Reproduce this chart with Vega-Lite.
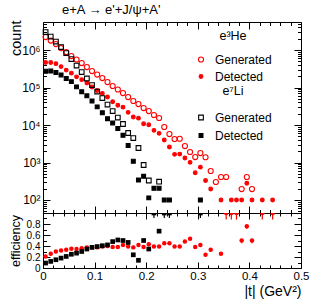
{
  "$schema": "https://vega.github.io/schema/vega-lite/v6.json",
  "padding": {"left": 7, "top": 4, "right": 5, "bottom": 5},
  "bounds": "flush",
  "title": {"text": "e+A → e'+J/ψ+A'", "anchor": "start", "frame": "group", "dx": 19, "fontSize": 13, "fontWeight": "normal", "font": "Liberation Sans", "offset": 0, "color": "black"},
  "config": {
    "view": {"stroke": "black", "strokeWidth": 1},
    "font": "Liberation Sans",
    "axis": {"domain": false, "grid": false, "tickColor": "black", "labelColor": "black", "titleColor": "black", "titleFontWeight": "normal", "labelFont": "Liberation Sans", "titleFont": "Liberation Sans", "labelOverlap": false, "labelBound": false, "labelFlush": false},
    "legend": {"labelFont": "Liberation Sans", "titleFont": "Liberation Sans", "labelColor": "black", "titleColor": "black"}
  },
  "spacing": 0,
  "datasets": {
    "counts": [
      {"t":0.005,"nucleus":"He","series":"Generated","count":2220000},
      {"t":0.015,"nucleus":"He","series":"Generated","count":1790000},
      {"t":0.025,"nucleus":"He","series":"Generated","count":1445000},
      {"t":0.035,"nucleus":"He","series":"Generated","count":1130000},
      {"t":0.045,"nucleus":"He","series":"Generated","count":885000},
      {"t":0.055,"nucleus":"He","series":"Generated","count":692000},
      {"t":0.065,"nucleus":"He","series":"Generated","count":558000},
      {"t":0.075,"nucleus":"He","series":"Generated","count":450000},
      {"t":0.085,"nucleus":"He","series":"Generated","count":352000},
      {"t":0.095,"nucleus":"He","series":"Generated","count":275000},
      {"t":0.105,"nucleus":"He","series":"Generated","count":222000},
      {"t":0.115,"nucleus":"He","series":"Generated","count":179000},
      {"t":0.125,"nucleus":"He","series":"Generated","count":140000},
      {"t":0.135,"nucleus":"He","series":"Generated","count":110000},
      {"t":0.145,"nucleus":"He","series":"Generated","count":88500},
      {"t":0.155,"nucleus":"He","series":"Generated","count":71300},
      {"t":0.165,"nucleus":"He","series":"Generated","count":55800},
      {"t":0.175,"nucleus":"He","series":"Generated","count":43700},
      {"t":0.185,"nucleus":"He","series":"Generated","count":36300},
      {"t":0.195,"nucleus":"He","series":"Generated","count":28400},
      {"t":0.205,"nucleus":"He","series":"Generated","count":23600},
      {"t":0.215,"nucleus":"He","series":"Generated","count":18500},
      {"t":0.225,"nucleus":"He","series":"Generated","count":15400},
      {"t":0.235,"nucleus":"He","series":"Generated","count":8850},
      {"t":0.245,"nucleus":"He","series":"Generated","count":5750},
      {"t":0.255,"nucleus":"He","series":"Generated","count":4240},
      {"t":0.265,"nucleus":"He","series":"Generated","count":4300},
      {"t":0.275,"nucleus":"He","series":"Generated","count":2750},
      {"t":0.285,"nucleus":"He","series":"Generated","count":1905},
      {"t":0.295,"nucleus":"He","series":"Generated","count":1400},
      {"t":0.305,"nucleus":"He","series":"Generated","count":1790},
      {"t":0.315,"nucleus":"He","series":"Generated","count":1380},
      {"t":0.325,"nucleus":"He","series":"Generated","count":593},
      {"t":0.335,"nucleus":"He","series":"Generated","count":302},
      {"t":0.345,"nucleus":"He","series":"Generated","count":411},
      {"t":0.355,"nucleus":"He","series":"Generated","count":411},
      {"t":0.385,"nucleus":"He","series":"Generated","count":196},
      {"t":0.395,"nucleus":"He","series":"Generated","count":411},
      {"t":0.405,"nucleus":"He","series":"Generated","count":196},
      {"t":0.005,"nucleus":"He","series":"Detected","count":466000},
      {"t":0.015,"nucleus":"He","series":"Detected","count":465000},
      {"t":0.025,"nucleus":"He","series":"Detected","count":433500},
      {"t":0.035,"nucleus":"He","series":"Detected","count":361600},
      {"t":0.045,"nucleus":"He","series":"Detected","count":292000},
      {"t":0.055,"nucleus":"He","series":"Detected","count":242200},
      {"t":0.065,"nucleus":"He","series":"Detected","count":192500},
      {"t":0.075,"nucleus":"He","series":"Detected","count":162000},
      {"t":0.085,"nucleus":"He","series":"Detected","count":132000},
      {"t":0.095,"nucleus":"He","series":"Detected","count":103100},
      {"t":0.105,"nucleus":"He","series":"Detected","count":83250},
      {"t":0.115,"nucleus":"He","series":"Detected","count":69800},
      {"t":0.125,"nucleus":"He","series":"Detected","count":56000},
      {"t":0.135,"nucleus":"He","series":"Detected","count":41800},
      {"t":0.145,"nucleus":"He","series":"Detected","count":33630},
      {"t":0.155,"nucleus":"He","series":"Detected","count":29950},
      {"t":0.165,"nucleus":"He","series":"Detected","count":21760},
      {"t":0.175,"nucleus":"He","series":"Detected","count":16390},
      {"t":0.185,"nucleus":"He","series":"Detected","count":15250},
      {"t":0.195,"nucleus":"He","series":"Detected","count":10790},
      {"t":0.205,"nucleus":"He","series":"Detected","count":10150},
      {"t":0.215,"nucleus":"He","series":"Detected","count":7215},
      {"t":0.225,"nucleus":"He","series":"Detected","count":6006},
      {"t":0.235,"nucleus":"He","series":"Detected","count":3983},
      {"t":0.245,"nucleus":"He","series":"Detected","count":2588},
      {"t":0.255,"nucleus":"He","series":"Detected","count":1654},
      {"t":0.265,"nucleus":"He","series":"Detected","count":1677},
      {"t":0.275,"nucleus":"He","series":"Detected","count":1320},
      {"t":0.285,"nucleus":"He","series":"Detected","count":1010},
      {"t":0.295,"nucleus":"He","series":"Detected","count":532},
      {"t":0.305,"nucleus":"He","series":"Detected","count":752},
      {"t":0.315,"nucleus":"He","series":"Detected","count":331},
      {"t":0.325,"nucleus":"He","series":"Detected","count":196},
      {"t":0.345,"nucleus":"He","series":"Detected","count":100},
      {"t":0.365,"nucleus":"He","series":"Detected","count":100},
      {"t":0.375,"nucleus":"He","series":"Detected","count":100},
      {"t":0.385,"nucleus":"He","series":"Detected","count":100},
      {"t":0.395,"nucleus":"He","series":"Detected","count":280},
      {"t":0.405,"nucleus":"He","series":"Detected","count":100},
      {"t":0.425,"nucleus":"He","series":"Detected","count":100},
      {"t":0.445,"nucleus":"He","series":"Detected","count":100},
      {"t":0.005,"nucleus":"Li","series":"Generated","count":3020000},
      {"t":0.015,"nucleus":"Li","series":"Generated","count":2290000},
      {"t":0.025,"nucleus":"Li","series":"Generated","count":1686000},
      {"t":0.035,"nucleus":"Li","series":"Generated","count":1200000},
      {"t":0.045,"nucleus":"Li","series":"Generated","count":832000},
      {"t":0.055,"nucleus":"Li","series":"Generated","count":575000},
      {"t":0.065,"nucleus":"Li","series":"Generated","count":386000},
      {"t":0.075,"nucleus":"Li","series":"Generated","count":259000},
      {"t":0.085,"nucleus":"Li","series":"Generated","count":174000},
      {"t":0.095,"nucleus":"Li","series":"Generated","count":116600},
      {"t":0.105,"nucleus":"Li","series":"Generated","count":78200},
      {"t":0.115,"nucleus":"Li","series":"Generated","count":52500},
      {"t":0.125,"nucleus":"Li","series":"Generated","count":35200},
      {"t":0.135,"nucleus":"Li","series":"Generated","count":23600},
      {"t":0.145,"nucleus":"Li","series":"Generated","count":15850},
      {"t":0.155,"nucleus":"Li","series":"Generated","count":10640},
      {"t":0.165,"nucleus":"Li","series":"Generated","count":6120},
      {"t":0.175,"nucleus":"Li","series":"Generated","count":4500},
      {"t":0.185,"nucleus":"Li","series":"Generated","count":2437},
      {"t":0.195,"nucleus":"Li","series":"Generated","count":858},
      {"t":0.205,"nucleus":"Li","series":"Generated","count":331},
      {"t":0.225,"nucleus":"Li","series":"Generated","count":308},
      {"t":0.005,"nucleus":"Li","series":"Detected","count":271800},
      {"t":0.015,"nucleus":"Li","series":"Detected","count":274800},
      {"t":0.025,"nucleus":"Li","series":"Detected","count":252900},
      {"t":0.035,"nucleus":"Li","series":"Detected","count":216000},
      {"t":0.045,"nucleus":"Li","series":"Detected","count":174700},
      {"t":0.055,"nucleus":"Li","series":"Detected","count":143750},
      {"t":0.065,"nucleus":"Li","series":"Detected","count":104200},
      {"t":0.075,"nucleus":"Li","series":"Detected","count":77700},
      {"t":0.085,"nucleus":"Li","series":"Detected","count":60030},
      {"t":0.095,"nucleus":"Li","series":"Detected","count":43725},
      {"t":0.105,"nucleus":"Li","series":"Detected","count":30500},
      {"t":0.115,"nucleus":"Li","series":"Detected","count":21260},
      {"t":0.125,"nucleus":"Li","series":"Detected","count":14780},
      {"t":0.135,"nucleus":"Li","series":"Detected","count":11330},
      {"t":0.145,"nucleus":"Li","series":"Detected","count":8080},
      {"t":0.155,"nucleus":"Li","series":"Detected","count":5320},
      {"t":0.165,"nucleus":"Li","series":"Detected","count":2846},
      {"t":0.175,"nucleus":"Li","series":"Detected","count":1080},
      {"t":0.185,"nucleus":"Li","series":"Detected","count":341},
      {"t":0.195,"nucleus":"Li","series":"Detected","count":429},
      {"t":0.205,"nucleus":"Li","series":"Detected","count":114},
      {"t":0.215,"nucleus":"Li","series":"Detected","count":205},
      {"t":0.225,"nucleus":"Li","series":"Detected","count":206},
      {"t":0.235,"nucleus":"Li","series":"Detected","count":100},
      {"t":0.245,"nucleus":"Li","series":"Detected","count":100},
      {"t":0.305,"nucleus":"Li","series":"Detected","count":100}
    ],
    "eff": [
      {"t":0.005,"nucleus":"He","eff":0.21,"lo":0.21,"over":0},
      {"t":0.015,"nucleus":"He","eff":0.26,"lo":0.26,"over":0},
      {"t":0.025,"nucleus":"He","eff":0.30,"lo":0.30,"over":0},
      {"t":0.035,"nucleus":"He","eff":0.32,"lo":0.32,"over":0},
      {"t":0.045,"nucleus":"He","eff":0.33,"lo":0.33,"over":0},
      {"t":0.055,"nucleus":"He","eff":0.35,"lo":0.35,"over":0},
      {"t":0.065,"nucleus":"He","eff":0.345,"lo":0.345,"over":0},
      {"t":0.075,"nucleus":"He","eff":0.36,"lo":0.36,"over":0},
      {"t":0.085,"nucleus":"He","eff":0.375,"lo":0.375,"over":0},
      {"t":0.095,"nucleus":"He","eff":0.375,"lo":0.375,"over":0},
      {"t":0.105,"nucleus":"He","eff":0.375,"lo":0.375,"over":0},
      {"t":0.115,"nucleus":"He","eff":0.39,"lo":0.39,"over":0},
      {"t":0.125,"nucleus":"He","eff":0.40,"lo":0.40,"over":0},
      {"t":0.135,"nucleus":"He","eff":0.38,"lo":0.38,"over":0},
      {"t":0.145,"nucleus":"He","eff":0.38,"lo":0.38,"over":0},
      {"t":0.155,"nucleus":"He","eff":0.42,"lo":0.42,"over":0},
      {"t":0.165,"nucleus":"He","eff":0.39,"lo":0.39,"over":0},
      {"t":0.175,"nucleus":"He","eff":0.375,"lo":0.375,"over":0},
      {"t":0.185,"nucleus":"He","eff":0.42,"lo":0.42,"over":0},
      {"t":0.195,"nucleus":"He","eff":0.38,"lo":0.38,"over":0},
      {"t":0.205,"nucleus":"He","eff":0.43,"lo":0.43,"over":0},
      {"t":0.215,"nucleus":"He","eff":0.39,"lo":0.39,"over":0},
      {"t":0.225,"nucleus":"He","eff":0.39,"lo":0.39,"over":0},
      {"t":0.235,"nucleus":"He","eff":0.45,"lo":0.45,"over":0},
      {"t":0.245,"nucleus":"He","eff":0.45,"lo":0.45,"over":0},
      {"t":0.255,"nucleus":"He","eff":0.39,"lo":0.39,"over":0},
      {"t":0.265,"nucleus":"He","eff":0.39,"lo":0.39,"over":0},
      {"t":0.275,"nucleus":"He","eff":0.48,"lo":0.48,"over":0},
      {"t":0.285,"nucleus":"He","eff":0.53,"lo":0.53,"over":0},
      {"t":0.295,"nucleus":"He","eff":0.38,"lo":0.38,"over":0},
      {"t":0.305,"nucleus":"He","eff":0.42,"lo":0.42,"over":0},
      {"t":0.315,"nucleus":"He","eff":0.24,"lo":0.24,"over":0},
      {"t":0.325,"nucleus":"He","eff":0.33,"lo":0.33,"over":0},
      {"t":0.345,"nucleus":"He","eff":0.26,"lo":0.26,"over":0},
      {"t":0.385,"nucleus":"He","eff":0.50,"lo":0.45,"over":0},
      {"t":0.395,"nucleus":"He","eff":0.76,"lo":0.71,"over":0},
      {"t":0.405,"nucleus":"He","eff":0.50,"lo":0.45,"over":0},
      {"t":0.355,"nucleus":"He","eff":1,"lo":0.88,"over":1},
      {"t":0.365,"nucleus":"He","eff":1,"lo":0.88,"over":1},
      {"t":0.375,"nucleus":"He","eff":1,"lo":0.88,"over":1},
      {"t":0.425,"nucleus":"He","eff":1,"lo":0.88,"over":1},
      {"t":0.445,"nucleus":"He","eff":1,"lo":0.88,"over":1},
      {"t":0.005,"nucleus":"Li","eff":0.09,"lo":0.09,"over":0},
      {"t":0.015,"nucleus":"Li","eff":0.12,"lo":0.12,"over":0},
      {"t":0.025,"nucleus":"Li","eff":0.15,"lo":0.15,"over":0},
      {"t":0.035,"nucleus":"Li","eff":0.18,"lo":0.18,"over":0},
      {"t":0.045,"nucleus":"Li","eff":0.21,"lo":0.21,"over":0},
      {"t":0.055,"nucleus":"Li","eff":0.25,"lo":0.25,"over":0},
      {"t":0.065,"nucleus":"Li","eff":0.27,"lo":0.27,"over":0},
      {"t":0.075,"nucleus":"Li","eff":0.30,"lo":0.30,"over":0},
      {"t":0.085,"nucleus":"Li","eff":0.345,"lo":0.345,"over":0},
      {"t":0.095,"nucleus":"Li","eff":0.375,"lo":0.375,"over":0},
      {"t":0.105,"nucleus":"Li","eff":0.39,"lo":0.39,"over":0},
      {"t":0.115,"nucleus":"Li","eff":0.405,"lo":0.405,"over":0},
      {"t":0.125,"nucleus":"Li","eff":0.42,"lo":0.42,"over":0},
      {"t":0.135,"nucleus":"Li","eff":0.48,"lo":0.48,"over":0},
      {"t":0.145,"nucleus":"Li","eff":0.51,"lo":0.51,"over":0},
      {"t":0.155,"nucleus":"Li","eff":0.50,"lo":0.50,"over":0},
      {"t":0.165,"nucleus":"Li","eff":0.465,"lo":0.465,"over":0},
      {"t":0.175,"nucleus":"Li","eff":0.24,"lo":0.24,"over":0},
      {"t":0.185,"nucleus":"Li","eff":0.14,"lo":0.14,"over":0},
      {"t":0.195,"nucleus":"Li","eff":0.50,"lo":0.50,"over":0},
      {"t":0.205,"nucleus":"Li","eff":0.345,"lo":0.345,"over":0},
      {"t":0.225,"nucleus":"Li","eff":0.67,"lo":0.67,"over":0},
      {"t":0.215,"nucleus":"Li","eff":1,"lo":0.91,"over":1},
      {"t":0.235,"nucleus":"Li","eff":1,"lo":0.91,"over":1},
      {"t":0.245,"nucleus":"Li","eff":1,"lo":0.91,"over":1},
      {"t":0.305,"nucleus":"Li","eff":1,"lo":0.91,"over":1}
    ]
  },
  "vconcat": [
    {
      "width": 258,
      "height": 191,
      "layer": [
        {
          "data": {"name": "counts"},
          "transform": [{"filter": "datum.nucleus === 'He'"}],
          "mark": {"type": "point", "shape": "circle", "filled": true, "strokeWidth": 1.1, "opacity": 1},
          "encoding": {
            "x": {"field": "t", "type": "quantitative", "scale": {"domain": [0, 0.5], "nice": false, "zero": false},
              "axis": {"orient": "bottom", "labels": false, "title": null,
                "values": [0,0.02,0.04,0.06,0.08,0.1,0.12,0.14,0.16,0.18,0.2,0.22,0.24,0.26,0.28,0.3,0.32,0.34,0.36,0.38,0.4,0.42,0.44,0.46,0.48,0.5],
                "tickSize": {"condition": {"test": "abs(datum.value*10-round(datum.value*10))<1e-6", "value": -7}, "value": -3.5}}},
            "y": {"field": "count", "type": "quantitative", "scale": {"type": "log", "domain": [45, 5600000], "nice": false},
              "axis": {"orient": "left",
                "values": [50,60,70,80,90,100,200,300,400,500,600,700,800,900,1000,2000,3000,4000,5000,6000,7000,8000,9000,10000,20000,30000,40000,50000,60000,70000,80000,90000,100000,200000,300000,400000,500000,600000,700000,800000,900000,1000000,2000000,3000000,4000000,5000000],
                "labelExpr": "datum.value==100?'10²':datum.value==1000?'10³':datum.value==10000?'10⁴':datum.value==100000?'10⁵':datum.value==1000000?'10⁶':''",
                "tickSize": {"condition": {"test": "indexof([100,1000,10000,100000,1000000], datum.value) >= 0", "value": -7}, "value": -3.5},
                "labelPadding": 10, "labelFontSize": 12,
                "title": "count", "titleFontSize": 14.5, "titleAnchor": "end", "titleAlign": "right", "titleX": -20, "titleY": -2}},
            "fill": {"field": "series", "type": "nominal", "scale": {"domain": ["Generated", "Detected"], "range": ["transparent", "#ff0000"]},
              "legend": {"title": "\u00a0\u00a0\u00a0e³He", "orient": "none", "legendX": 152, "legendY": 8, "titleAnchor": "middle", "titleFontSize": 12.5, "titleFontWeight": "normal", "titlePadding": 11, "labelFontSize": 12, "rowPadding": 5, "labelOffset": 8, "padding": 0, "symbolStrokeWidth": 1.1}},
            "stroke": {"field": "series", "type": "nominal", "scale": {"domain": ["Generated", "Detected"], "range": ["#ff0000", "#ff0000"]},
              "legend": {"title": "\u00a0\u00a0\u00a0e³He", "orient": "none", "legendX": 152, "legendY": 8, "titleAnchor": "middle", "titleFontSize": 12.5, "titleFontWeight": "normal", "titlePadding": 11, "labelFontSize": 12, "rowPadding": 5, "labelOffset": 8, "padding": 0, "symbolStrokeWidth": 1.1}},
            "size": {"field": "series", "type": "nominal", "scale": {"domain": ["Generated", "Detected"], "range": [26, 14]},
              "legend": {"title": "\u00a0\u00a0\u00a0e³He", "orient": "none", "legendX": 152, "legendY": 8, "titleAnchor": "middle", "titleFontSize": 12.5, "titleFontWeight": "normal", "titlePadding": 11, "labelFontSize": 12, "rowPadding": 5, "labelOffset": 8, "padding": 0, "symbolStrokeWidth": 1.1}}
          }
        },
        {
          "data": {"name": "counts"},
          "transform": [{"filter": "datum.nucleus === 'Li'"}],
          "mark": {"type": "point", "shape": "square", "filled": true, "strokeWidth": 1.1, "opacity": 1},
          "encoding": {
            "x": {"field": "t", "type": "quantitative", "scale": {"domain": [0, 0.5], "nice": false, "zero": false},
              "axis": {"orient": "top", "labels": false, "title": null,
                "values": [0,0.02,0.04,0.06,0.08,0.1,0.12,0.14,0.16,0.18,0.2,0.22,0.24,0.26,0.28,0.3,0.32,0.34,0.36,0.38,0.4,0.42,0.44,0.46,0.48,0.5],
                "tickSize": {"condition": {"test": "abs(datum.value*10-round(datum.value*10))<1e-6", "value": -7}, "value": -3.5}}},
            "y": {"field": "count", "type": "quantitative", "scale": {"type": "log", "domain": [45, 5600000], "nice": false},
              "axis": {"orient": "right", "labels": false, "title": null,
                "values": [50,60,70,80,90,100,200,300,400,500,600,700,800,900,1000,2000,3000,4000,5000,6000,7000,8000,9000,10000,20000,30000,40000,50000,60000,70000,80000,90000,100000,200000,300000,400000,500000,600000,700000,800000,900000,1000000,2000000,3000000,4000000,5000000],
                "tickSize": {"condition": {"test": "indexof([100,1000,10000,100000,1000000], datum.value) >= 0", "value": -7}, "value": -3.5}}},
            "fill": {"field": "series", "type": "nominal", "scale": {"domain": ["Generated", "Detected"], "range": ["transparent", "#000000"]},
              "legend": {"title": "\u00a0\u00a0\u00a0e⁷Li", "orient": "none", "legendX": 152, "legendY": 63, "titleAnchor": "middle", "titleFontSize": 12.5, "titleFontWeight": "normal", "titlePadding": 14, "labelFontSize": 12, "rowPadding": 6, "labelOffset": 8, "padding": 0, "symbolStrokeWidth": 1.1}},
            "stroke": {"field": "series", "type": "nominal", "scale": {"domain": ["Generated", "Detected"], "range": ["#000000", "#000000"]},
              "legend": {"title": "\u00a0\u00a0\u00a0e⁷Li", "orient": "none", "legendX": 152, "legendY": 63, "titleAnchor": "middle", "titleFontSize": 12.5, "titleFontWeight": "normal", "titlePadding": 14, "labelFontSize": 12, "rowPadding": 6, "labelOffset": 8, "padding": 0, "symbolStrokeWidth": 1.1}},
            "size": {"field": "series", "type": "nominal", "scale": {"domain": ["Generated", "Detected"], "range": [22, 15]},
              "legend": {"title": "\u00a0\u00a0\u00a0e⁷Li", "orient": "none", "legendX": 152, "legendY": 63, "titleAnchor": "middle", "titleFontSize": 12.5, "titleFontWeight": "normal", "titlePadding": 14, "labelFontSize": 12, "rowPadding": 6, "labelOffset": 8, "padding": 0, "symbolStrokeWidth": 1.1}}
          }
        }
      ],
      "resolve": {"scale": {"x": "independent", "y": "independent", "fill": "independent", "stroke": "independent", "size": "independent"}}
    },
    {
      "width": 258,
      "height": 55,
      "layer": [
        {
          "data": {"name": "eff"},
          "transform": [{"filter": "datum.nucleus === 'He' && datum.over == 0"}],
          "mark": {"type": "point", "shape": "circle", "filled": true, "color": "#ff0000", "size": 20, "opacity": 1},
          "encoding": {
            "x": {"field": "t", "type": "quantitative", "scale": {"domain": [0, 0.5], "nice": false, "zero": false},
              "axis": {"orient": "bottom", "title": "|t| (GeV²)", "titleFontSize": 14, "titleAnchor": "end", "titleAlign": "right", "titleX": 258, "titleY": 16, "titleBaseline": "top",
                "values": [0,0.02,0.04,0.06,0.08,0.1,0.12,0.14,0.16,0.18,0.2,0.22,0.24,0.26,0.28,0.3,0.32,0.34,0.36,0.38,0.4,0.42,0.44,0.46,0.48,0.5],
                "labelExpr": "abs(datum.value*10-round(datum.value*10))<1e-6 ? format(datum.value,'~g') : ''",
                "labelFontSize": 11.5, "labelPadding": 8,
                "tickSize": {"condition": {"test": "abs(datum.value*10-round(datum.value*10))<1e-6", "value": -6}, "value": -3}}},
            "y": {"field": "eff", "type": "quantitative", "scale": {"domain": [0, 1], "nice": false, "zero": false},
              "axis": {"orient": "left", "values": [0,0.1,0.2,0.3,0.4,0.5,0.6,0.7,0.8,0.9,1],
                "labelExpr": "indexof([0,0.2,0.4,0.6,0.8], datum.value) >= 0 ? format(datum.value,'~g') : ''",
                "labelFontSize": 10, "labelPadding": 10,
                "tickSize": {"condition": {"test": "indexof([0,0.2,0.4,0.6,0.8,1], datum.value) >= 0", "value": -7}, "value": -3.5},
                "title": "efficiency", "titleFontSize": 12.5, "titleX": -21}}
          }
        },
        {
          "data": {"name": "eff"},
          "transform": [{"filter": "datum.nucleus === 'Li' && datum.over == 0"}],
          "mark": {"type": "point", "shape": "square", "filled": true, "color": "#000000", "size": 22, "opacity": 1},
          "encoding": {
            "x": {"field": "t", "type": "quantitative", "scale": {"domain": [0, 0.5], "nice": false, "zero": false},
              "axis": {"orient": "top", "labels": false, "title": null,
                "values": [0,0.02,0.04,0.06,0.08,0.1,0.12,0.14,0.16,0.18,0.2,0.22,0.24,0.26,0.28,0.3,0.32,0.34,0.36,0.38,0.4,0.42,0.44,0.46,0.48,0.5],
                "tickSize": {"condition": {"test": "abs(datum.value*10-round(datum.value*10))<1e-6", "value": -6}, "value": -3}}},
            "y": {"field": "eff", "type": "quantitative", "scale": {"domain": [0, 1], "nice": false, "zero": false},
              "axis": {"orient": "right", "labels": false, "title": null, "values": [0,0.1,0.2,0.3,0.4,0.5,0.6,0.7,0.8,0.9,1],
                "tickSize": {"condition": {"test": "indexof([0,0.2,0.4,0.6,0.8,1], datum.value) >= 0", "value": -7}, "value": -3.5}}}
          }
        },
        {
          "data": {"name": "eff"},
          "transform": [{"filter": "datum.lo < datum.eff"}],
          "mark": {"type": "rule", "strokeWidth": 1.2},
          "encoding": {
            "x": {"field": "t", "type": "quantitative", "scale": {"domain": [0, 0.5], "nice": false, "zero": false}, "axis": null},
            "y": {"field": "eff", "type": "quantitative", "scale": {"domain": [0, 1], "nice": false, "zero": false}, "axis": null},
            "y2": {"field": "lo"},
            "color": {"field": "nucleus", "type": "nominal", "scale": {"domain": ["He", "Li"], "range": ["#ff0000", "#000000"]}, "legend": null}
          }
        },
        {
          "data": {"name": "eff"},
          "transform": [{"filter": "datum.over == 1"}],
          "mark": {"type": "point", "filled": true, "size": 22, "opacity": 1, "clip": true},
          "encoding": {
            "x": {"field": "t", "type": "quantitative", "scale": {"domain": [0, 0.5], "nice": false, "zero": false}, "axis": null},
            "y": {"field": "eff", "type": "quantitative", "scale": {"domain": [0, 1], "nice": false, "zero": false}, "axis": null},
            "color": {"field": "nucleus", "type": "nominal", "scale": {"domain": ["He", "Li"], "range": ["#ff0000", "#000000"]}, "legend": null},
            "shape": {"field": "nucleus", "type": "nominal", "scale": {"domain": ["He", "Li"], "range": ["circle", "square"]}, "legend": null}
          }
        }
      ],
      "resolve": {"scale": {"x": "independent", "y": "independent"}}
    }
  ]
}
